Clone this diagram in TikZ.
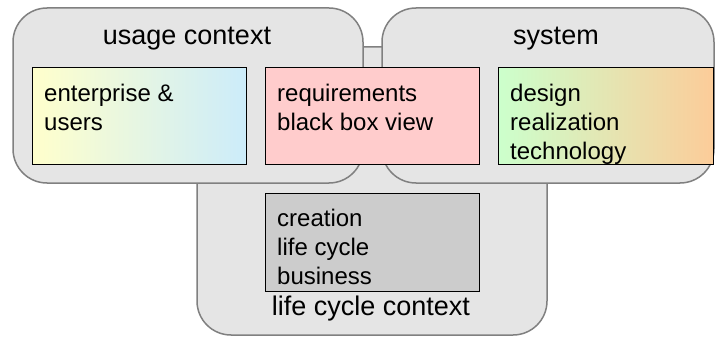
\documentclass[tikz,border=0pt]{standalone}
\usepackage{fontspec}
\setmainfont{Liberation Sans}
\definecolor{outerfill}{RGB}{229,229,229}
\definecolor{outerline}{RGB}{128,128,128}
\definecolor{reqfill}{RGB}{255,204,204}
\definecolor{lcfill}{RGB}{204,204,204}
\definecolor{entL}{RGB}{255,255,204}
\definecolor{entR}{RGB}{204,236,250}
\definecolor{desL}{RGB}{204,255,204}
\definecolor{desR}{RGB}{252,204,153}
\tikzset{
  outerbox/.style={draw=outerline, fill=outerfill, line width=1.5pt, rounded corners=34pt},
  innerbox/.style={draw=black, line width=1.4pt},
  titletext/.style={font=\fontsize{27}{32}\selectfont, inner sep=0pt, anchor=base},
  boxtext/.style={font=\fontsize{24}{29}\selectfont, inner sep=0pt, anchor=north west, align=left},
}
\begin{document}
\begin{tikzpicture}[x=1pt,y=-1pt]
\useasboundingbox (0,0) rectangle (716,337);
% outer contexts
\draw[outerbox] (197,47) rectangle (547,335);
\draw[outerbox] (13,8) rectangle (363,183);
\draw[outerbox] (382,8) rectangle (714,183);
% titles
\node[titletext] (usage) at (187,45) {usage context};
\node[titletext] (system) at (556,45) {system};
\node[titletext] (life) at (371,315) {life cycle context};
% inner boxes
\node[innerbox, left color=entL, right color=entR, minimum width=214pt, minimum height=97pt, anchor=north west, inner sep=0pt] (ent) at (32,67) {};
\node[innerbox, fill=reqfill, minimum width=214pt, minimum height=97pt, anchor=north west, inner sep=0pt] (req) at (265,67) {};
\node[innerbox, left color=desL, right color=desR, minimum width=215pt, minimum height=97pt, anchor=north west, inner sep=0pt] (des) at (498,67) {};
\node[innerbox, fill=lcfill, minimum width=214pt, minimum height=98pt, anchor=north west, inner sep=0pt] (cre) at (265,193) {};
% inner texts
\node[boxtext] (entt) at (44,80.7) {\strut enterprise \&\\users};
\node[boxtext] (reqt) at (277,80.7) {\strut requirements\\black box view};
\node[boxtext] (dest) at (510,80.7) {\strut design\\realization\\technology};
\node[boxtext] (cret) at (277,206.4) {\strut creation\\life cycle\\business};
\end{tikzpicture}
\end{document}
